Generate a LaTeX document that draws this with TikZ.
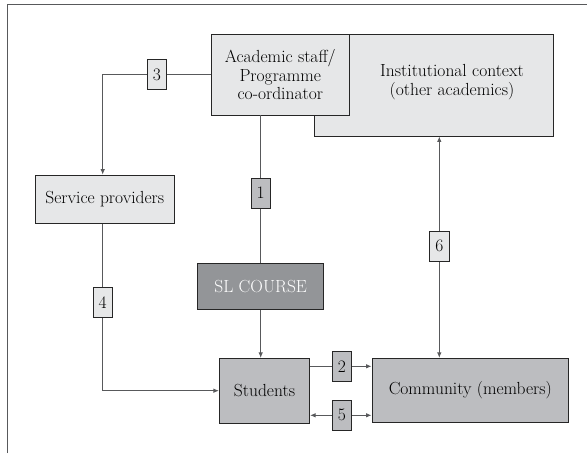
\documentclass[tikz,border=0pt]{standalone}
\usetikzlibrary{arrows.meta}
\definecolor{boxlight}{HTML}{E6E7E8}
\definecolor{boxmid}{HTML}{BCBDC0}
\definecolor{boxdark}{HTML}{939598}
\definecolor{edgegray}{HTML}{58595B}

\begin{document}
\begin{tikzpicture}[x=1pt,y=-1pt,
  every node/.style={font=\fontsize{17.5}{18.4}\selectfont},
  box/.style={draw=black!85,line width=0.8pt,inner sep=0pt,align=center},
  link/.style={draw=edgegray,line width=0.9pt},
  arr/.style={link,-{Latex[length=5.5pt,width=4.5pt]}}]
\useasboundingbox (0,0) rectangle (587,453);
% frame
\draw[edgegray,line width=0.9pt] (7.3,453) -- (7.3,4.3) -- (587,4.3);
% main boxes (institutional context sits behind academic staff)
\node (inst) [box,fill=boxlight,minimum width=239,minimum height=101.7,
  label={[xshift=18.5pt,yshift=3pt,align=center]center:{Institutional context\\(other academics)}}] at (433.5,85.2) {};
\node (acad) [box,fill=boxlight,minimum width=137.3,minimum height=80.7] at (280.3,74.7) {Academic staff/\\Programme\\co-ordinator};
\node (serv) [box,fill=boxlight,minimum width=138.3,minimum height=48.3] at (104.8,199.2) {Service providers};
\node (sl) [box,fill=boxdark,text=white,minimum width=126,minimum height=46.4] at (260.7,286.5) {SL COURSE};
\node (stud) [box,fill=boxmid,minimum width=90.4,minimum height=64.7] at (264.5,390.7) {Students};
\node (comm) [box,fill=boxmid,minimum width=196.7,minimum height=64] at (470.3,390.3) {Community (members)};
% numbered links
\foreach \n/\px/\py/\c in {3/157/74.7/boxlight, 1/260.7/193.2/boxmid, 4/102.7/302.3/boxlight,
  6/439.3/246.2/boxlight, 2/341.8/366.3/boxmid, 5/341.8/415.3/boxmid}
  \node (b\n) [box,fill=\c,minimum width=19.3,minimum height=30.3] at (\px,\py) {\n};
% connectors
\coordinate (c3) at (102.7,74.7);
\draw[link] (acad.west) -- (b3);
\draw[arr] (b3) -- (c3) -- (c3 |- serv.north);
\draw[link] (acad.south -| b1) -- (b1);
\draw[link] (b1) -- (sl);
\draw[arr] (sl.south) -- (sl.south |- stud.north);
\draw[link] (serv.south -| b4) -- (b4);
\draw[arr] (b4) |- (stud.west);
\draw[link] (stud.east |- b2) -- (b2);
\draw[arr] (b2) -- (comm.west |- b2);
\draw[arr] (b5) -- (stud.east |- b5);
\draw[arr] (b5) -- (comm.west |- b5);
\draw[arr] (b6) -- (b6 |- inst.south);
\draw[arr] (b6) -- (b6 |- comm.north);
\end{tikzpicture}
\end{document}
